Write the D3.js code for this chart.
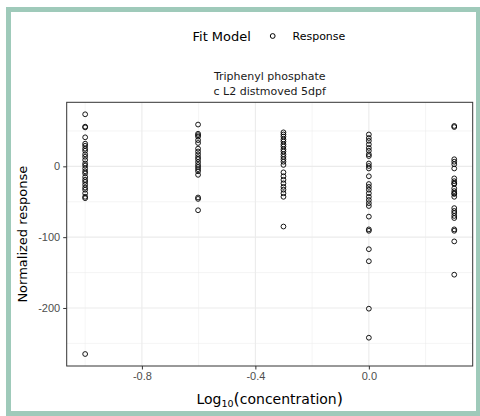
<!DOCTYPE html>
<html>
<head>
<meta charset="utf-8">
<script src="https://cdn.jsdelivr.net/npm/d3@7"></script>
<style>
  body { margin: 0; background: #fff; }
  svg { display: block; font-family: "DejaVu Sans", sans-serif; }
  .grid line { stroke: #ebebeb; }
  .axis text { fill: #4d4d4d; font-size: 11px; }
  .axis line { stroke: #333; }
  .axis path { display: none; }
</style>
</head>
<body>
<svg id="chart" width="480" height="416"></svg>
<script>
// log10 of the tested concentrations
const doses = [-1, -0.602, -0.301, 0, 0.301];

const responses = [
  [73.5, 56, 55, 41, 32, 29, 25, 22, 17, 13.5, 9, 4, 1, -3, -7, -10, -15, -19, -22, -26, -30, -33, -38, -43, -45, -265],
  [59, 46, 44, 42, 37, 33, 25, 21, 17, 13, 10, 6, 2, -1, -4, -7, -12, -44, -46, -62],
  [48, 45, 42, 38, 35, 31, 28, 24, 21, 17, 13.5, 10, 6.5, 2, -8.5, -14, -19, -24, -29, -33, -38, -43, -85],
  [45, 40, 36, 31, 26, 22, 17, 14.5, 4, 0.5, -3, -14, -25, -29, -33, -38, -43, -47.5, -52, -56, -71, -89, -91, -117, -134, -201, -242],
  [57, 55.5, 10, 6.5, 3, -3, -17, -21, -24, -25, -31, -35, -38, -39, -43, -59, -63, -66, -70, -73, -89, -91, -106, -153]
];

const xTicks = [-0.8, -0.4, 0.0];
const yTicks = [0, -100, -200];
const xMinor = [-1.0, -0.6, -0.2, 0.2];
const yMinor = [50, -50, -150, -250];

const points = doses.flatMap((d, i) => responses[i].map((r) => ({ x: d, y: r })));

const svg = d3.select('#chart');

// card frame
svg.append('rect')
  .attr('x', 8.5).attr('y', 9.5)
  .attr('width', 470).attr('height', 404)
  .attr('fill', '#fff')
  .attr('stroke', '#9fcaba')
  .attr('stroke-width', 5);

const panel = { left: 66.7, right: 472.7, top: 102.3, bottom: 366 };

const xExt = d3.extent(points, (d) => d.x);
const yExt = d3.extent(points, (d) => d.y);
const xPad = (xExt[1] - xExt[0]) * 0.05;
const yPad = (yExt[1] - yExt[0]) * 0.05;

const x = d3.scaleLinear()
  .domain([xExt[0] - xPad, xExt[1] + xPad])
  .range([panel.left, panel.right]);

const y = d3.scaleLinear()
  .domain([yExt[0] - yPad, yExt[1] + yPad])
  .range([panel.bottom, panel.top]);

const grid = svg.append('g').attr('class', 'grid');

grid.selectAll('line.xminor')
  .data(xMinor)
  .join('line')
  .attr('x1', (d) => x(d)).attr('x2', (d) => x(d))
  .attr('y1', panel.top).attr('y2', panel.bottom)
  .attr('stroke-width', 0.5);

grid.selectAll('line.yminor')
  .data(yMinor)
  .join('line')
  .attr('class', 'yminor')
  .attr('y1', (d) => y(d)).attr('y2', (d) => y(d))
  .attr('x1', panel.left).attr('x2', panel.right)
  .attr('stroke-width', 0.5);

grid.selectAll('line.xmajor')
  .data(xTicks)
  .join('line')
  .attr('class', 'xmajor')
  .attr('x1', (d) => x(d)).attr('x2', (d) => x(d))
  .attr('y1', panel.top).attr('y2', panel.bottom)
  .attr('stroke-width', 1.1);

grid.selectAll('line.ymajor')
  .data(yTicks)
  .join('line')
  .attr('class', 'ymajor')
  .attr('y1', (d) => y(d)).attr('y2', (d) => y(d))
  .attr('x1', panel.left).attr('x2', panel.right)
  .attr('stroke-width', 1.1);

// points
svg.append('g')
  .selectAll('circle')
  .data(points)
  .join('circle')
  .attr('cx', (d) => x(d.x))
  .attr('cy', (d) => y(d.y))
  .attr('r', 2.4)
  .attr('fill', 'none')
  .attr('stroke', '#000')
  .attr('stroke-opacity', 0.9)
  .attr('stroke-width', 1);

// panel border
svg.append('rect')
  .attr('x', panel.left).attr('y', panel.top)
  .attr('width', panel.right - panel.left)
  .attr('height', panel.bottom - panel.top)
  .attr('fill', 'none')
  .attr('stroke', '#333')
  .attr('stroke-width', 1);

// axes
svg.append('g')
  .attr('class', 'axis')
  .attr('transform', `translate(0,${panel.bottom})`)
  .call(d3.axisBottom(x).tickValues(xTicks).tickFormat((d) => d.toFixed(1)).tickSize(3.5).tickPadding(3));

svg.append('g')
  .attr('class', 'axis')
  .attr('transform', `translate(${panel.left},0)`)
  .call(d3.axisLeft(y).tickValues(yTicks).tickFormat((d) => String(d)).tickSize(3.5).tickPadding(3));

// titles
const title = svg.append('text')
  .attr('x', (panel.left + panel.right) / 2)
  .attr('text-anchor', 'middle')
  .attr('font-size', 11)
  .attr('fill', '#1a1a1a');
title.append('tspan').attr('x', (panel.left + panel.right) / 2).attr('y', 80).text('Triphenyl phosphate');
title.append('tspan').attr('x', (panel.left + panel.right) / 2).attr('y', 95).text('c L2 distmoved 5dpf');

const xTitle = svg.append('text')
  .attr('x', (panel.left + panel.right) / 2)
  .attr('y', 404)
  .attr('text-anchor', 'middle')
  .attr('font-size', 14)
  .attr('fill', '#000');
xTitle.append('tspan').text('Log');
xTitle.append('tspan').attr('font-size', 9.5).attr('dy', 3).text('10');
xTitle.append('tspan').attr('dy', -3).attr('font-size', 16).text('(');
xTitle.append('tspan').text('concentration');
xTitle.append('tspan').attr('font-size', 16).text(')');

svg.append('text')
  .attr('transform', `translate(27,${(panel.top + panel.bottom) / 2}) rotate(-90)`)
  .attr('text-anchor', 'middle')
  .attr('font-size', 13)
  .attr('fill', '#000')
  .text('Normalized response');

// legend
svg.append('text')
  .attr('x', 192.5).attr('y', 40.5)
  .attr('font-size', 13)
  .attr('fill', '#000')
  .text('Fit Model');

svg.append('circle')
  .attr('cx', 272.7).attr('cy', 36)
  .attr('r', 2.4)
  .attr('fill', 'none')
  .attr('stroke', '#000')
  .attr('stroke-width', 1);

svg.append('text')
  .attr('x', 292.5).attr('y', 40)
  .attr('font-size', 11)
  .attr('fill', '#000')
  .text('Response');
</script>
</body>
</html>
